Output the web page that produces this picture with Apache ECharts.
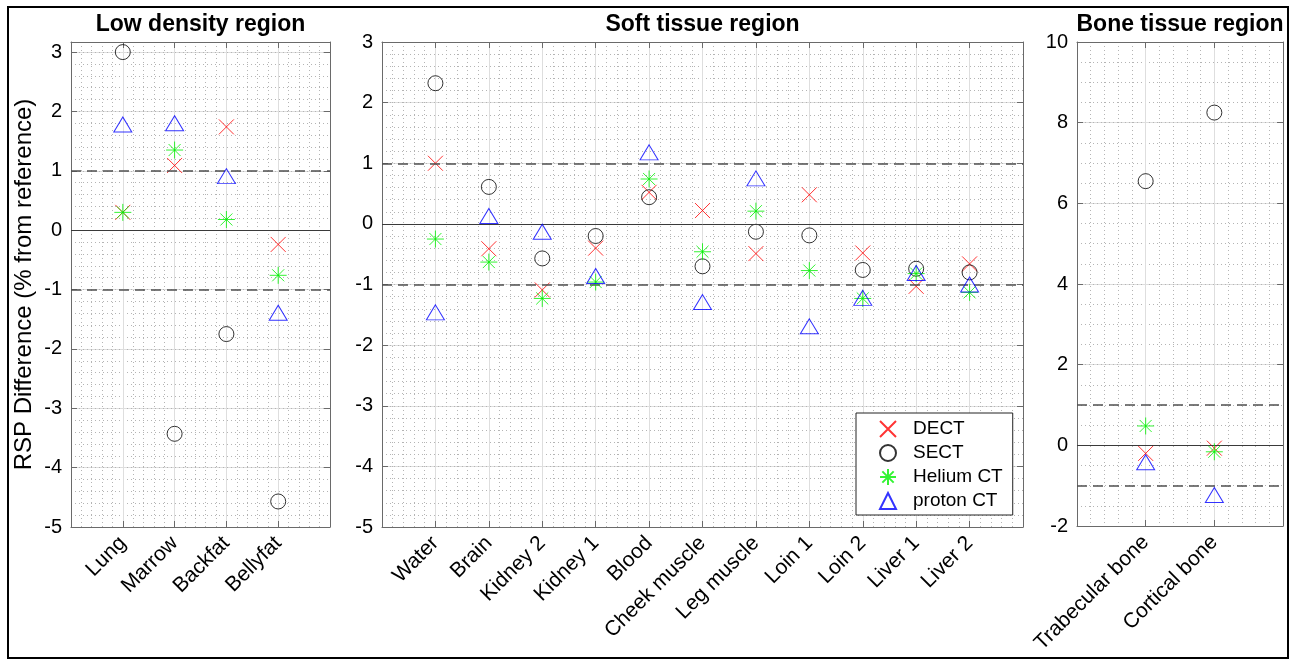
<!DOCTYPE html>
<html><head><meta charset="utf-8">
<script src="https://cdn.jsdelivr.net/npm/echarts@6/dist/echarts.min.js"></script>
<style>html,body{margin:0;padding:0;background:#fff}#c{width:1290px;height:659px}</style>
</head><body><div id="c"></div>
<script>
// ---------- data ----------
const seriesNames = ['DECT', 'SECT', 'Helium CT', 'proton CT'];

const lowCats = ['Lung', 'Marrow', 'Backfat', 'Bellyfat'];
const lowDECT   = [0.30, 1.09, 1.74, -0.24];
const lowSECT   = [3.00, -3.43, -1.75, -4.57];
const lowHelium = [0.30, 1.35, 0.18, -0.76];
const lowProton = [1.78, 1.80, 0.91, -1.39];

const softCats = ['Water', 'Brain', 'Kidney 2', 'Kidney 1', 'Blood', 'Cheek muscle', 'Leg muscle', 'Loin 1', 'Loin 2', 'Liver 1', 'Liver 2'];
const softDECT   = [1.00, -0.41, -1.09, -0.40, 0.52, 0.22, -0.49, 0.48, -0.48, -1.03, -0.66];
const softSECT   = [2.32, 0.61, -0.57, -0.20, 0.44, -0.70, -0.13, -0.19, -0.76, -0.74, -0.80];
const softHelium = [-0.25, -0.63, -1.23, -0.96, 0.74, -0.46, 0.21, -0.77, -1.23, -0.82, -1.13];
const softProton = [-1.46, 0.13, -0.13, -0.86, 1.18, -1.29, 0.75, -1.69, -1.22, -0.81, -1.00];

const boneCats = ['Trabecular bone', 'Cortical bone'];
const boneDECT   = [-0.20, -0.07];
const boneSECT   = [6.55, 8.25];
const boneHelium = [0.48, -0.16];
const boneProton = [-0.42, -1.23];

const panelTitles = ['Low density region', 'Soft tissue region', 'Bone tissue region'];
const yRangeLow  = [-5, 3.17];
const yRangeSoft = [-5, 3];
const yRangeBone = [-2, 10];
const refLines = [0, 1, -1];

// ---------- styling ----------
const FONT = '"Liberation Sans", Arial, Helvetica, sans-serif';
const AX = '#6a6a6a';
const symbols = [
  { symbol: 'path://M0,0L10,10M10,0L0,10', size: 15, color: '#ff0000' },
  { symbol: 'circle', size: 15, color: '#000000' },
  { symbol: 'path://M5,0L5,10M0,5L10,5M1.46,1.46L8.54,8.54M8.54,1.46L1.46,8.54', size: 17, color: '#00f000' },
  { symbol: 'triangle', size: [18, 15], color: '#0000ff' }
];

const panels = [
  { cats: lowCats,  vals: [lowDECT, lowSECT, lowHelium, lowProton],     yr: yRangeLow,  step: 1, minor: 0.2,
    grid: { left: 71, top: 42, width: 259, height: 485 }, tx: 200.5 },
  { cats: softCats, vals: [softDECT, softSECT, softHelium, softProton], yr: yRangeSoft, step: 1, minor: 0.2,
    grid: { left: 382, top: 42, width: 641, height: 485 }, tx: 702.5 },
  { cats: boneCats, vals: [boneDECT, boneSECT, boneHelium, boneProton], yr: yRangeBone, step: 2, minor: 0.5,
    grid: { left: 1077, top: 42, width: 206, height: 484 }, tx: 1180 }
];

const grid = [], xAxis = [], yAxis = [], series = [], graphic = [];

panels.forEach((p, i) => {
  grid.push(Object.assign({ containLabel: false, outerBoundsMode: 'none' }, p.grid));
  const n = p.cats.length;
  // bottom x axis
  xAxis.push({
    gridIndex: i, type: 'value', min: 0, max: n + 1, interval: 1, position: 'bottom',
    axisLine: { show: true, onZero: false, lineStyle: { color: AX, width: 1 } },
    axisTick: { show: true, inside: true, length: 6, lineStyle: { color: AX } },
    axisLabel: { rotate: 45, fontSize: 21, fontFamily: FONT, color: '#000', margin: 13,
      formatter: v => (v >= 1 && v <= n && Number.isInteger(v)) ? p.cats[v - 1] : '' },
    splitLine: { show: true, lineStyle: { color: '#dedede', width: 1 } },
    minorTick: { show: false, splitNumber: 5 },
    minorSplitLine: { show: true, lineStyle: { color: '#b4b4b4', width: 1, type: [1, 3] } }
  });
  // top x axis (box + inward ticks)
  xAxis.push({
    gridIndex: i, type: 'value', min: 0, max: n + 1, interval: 1, position: 'top',
    axisLine: { show: true, onZero: false, lineStyle: { color: AX, width: 1 } },
    axisTick: { show: true, inside: true, length: 6, lineStyle: { color: AX } },
    axisLabel: { show: false }, splitLine: { show: false }
  });
  // left y axis
  yAxis.push({
    gridIndex: i, type: 'value', min: p.yr[0], max: p.yr[1], interval: p.step, position: 'left',
    name: i === 0 ? 'RSP Difference (% from reference)' : '',
    nameLocation: 'middle', nameGap: 35,
    nameTextStyle: { fontSize: 24, fontFamily: FONT, color: '#000' },
    axisLine: { show: true, onZero: false, lineStyle: { color: AX, width: 1 } },
    axisTick: { show: true, inside: true, length: 6, lineStyle: { color: AX } },
    axisLabel: { fontSize: 20, fontFamily: FONT, color: '#000', margin: 9,
      formatter: v => Number.isInteger(v) ? String(v) : '' },
    splitLine: { show: true, lineStyle: { color: '#dedede', width: 1 } }
  });
  // right y axis (box + inward ticks)
  yAxis.push({
    gridIndex: i, type: 'value', min: p.yr[0], max: p.yr[1], interval: p.step, position: 'right',
    axisLine: { show: true, onZero: false, lineStyle: { color: AX, width: 1 } },
    axisTick: { show: true, inside: true, length: 6, lineStyle: { color: AX } },
    axisLabel: { show: false }, splitLine: { show: false }
  });
  // hidden y axis for the dotted minor grid
  yAxis.push({
    gridIndex: i, type: 'value', min: p.yr[0], max: p.yr[1], interval: p.minor, position: 'left',
    axisLine: { show: false }, axisTick: { show: false }, axisLabel: { show: false },
    splitLine: { show: true, lineStyle: { color: '#b4b4b4', width: 1, type: [1, 3] } }
  });

  // reference lines (below the markers)
  series.push({
    type: 'line', name: 'ref' + i, xAxisIndex: 2 * i, yAxisIndex: 3 * i, data: [], z: 1, silent: true,
    markLine: {
      silent: true, symbol: ['none', 'none'], label: { show: false }, animation: false,
      data: refLines.map(y => ({
        yAxis: y,
        lineStyle: y === 0 ? { color: '#3a3a3a', width: 1, type: 'solid' }
                           : { color: '#505050', width: 1.5, type: [10, 6] }
      }))
    }
  });

  seriesNames.forEach((name, s) => {
    const sy = symbols[s];
    series.push({
      type: 'scatter', name, xAxisIndex: 2 * i, yAxisIndex: 3 * i,
      symbol: sy.symbol, symbolSize: sy.size,
      itemStyle: { color: 'rgba(0,0,0,0)', borderColor: sy.color, borderWidth: 1 },
      emphasis: { disabled: true }, silent: true, z: 3 + s,
      data: p.vals[s].map((v, k) => [k + 1, v])
    });
  });

  graphic.push({
    type: 'text', x: p.tx, y: 25, silent: true,
    style: { text: panelTitles[i], font: 'bold 23px ' + FONT, fill: '#000', align: 'center', verticalAlign: 'middle' }
  });
});

graphic.push({
  type: 'rect', silent: true, z: 100,
  shape: { x: 8, y: 7, width: 1280, height: 651 },
  style: { fill: 'none', stroke: '#000', lineWidth: 2 }
});

const chart = echarts.init(document.getElementById('c'), null, { renderer: 'canvas' });
chart.setOption({
  animation: false,
  backgroundColor: '#fff',
  grid, xAxis, yAxis, series, graphic,
  legend: {
    data: seriesNames, orient: 'vertical', left: 856, top: 413,
    padding: [6, 10, 4, 23], itemGap: 4, itemWidth: 16, itemHeight: 16,
    backgroundColor: '#fff', borderColor: '#222', borderWidth: 1, borderRadius: 0,
    selectedMode: false,
    textStyle: { fontSize: 19, lineHeight: 20, fontFamily: FONT, color: '#000', padding: [0, 0, 0, 12] }
  }
});
</script>
</body></html>
